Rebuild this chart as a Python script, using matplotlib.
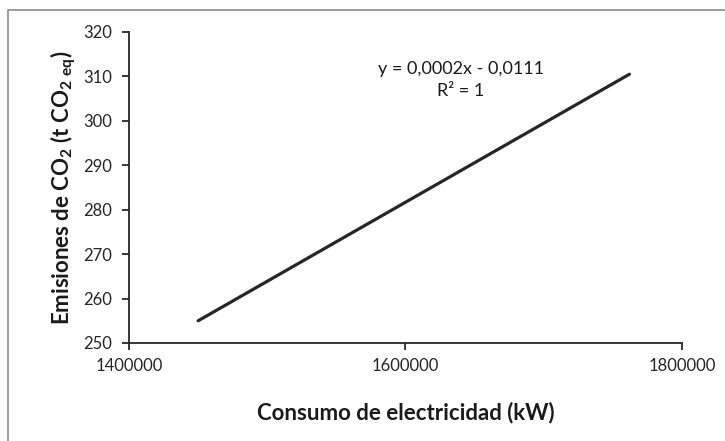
import matplotlib
matplotlib.use("Agg")
import matplotlib.pyplot as plt
from matplotlib.patches import Rectangle

# Electricity consumption (kW) vs CO2 emissions (t CO2 eq)
consumo_kw = [1450000, 1762000]
emisiones_t = [255.0, 310.5]

x_ticks = [1400000, 1600000, 1800000]
y_ticks = [250, 260, 270, 280, 290, 300, 310, 320]

ecuacion = "y = 0,0002x - 0,0111\nR² = 1"

plt.rcParams["font.family"] = ["Lato", "DejaVu Sans"]
plt.rcParams["mathtext.default"] = "regular"

fig = plt.figure(figsize=(7.25, 4.41), dpi=100)
W, H = 725, 441

# chart frame (left and top edges visible)
fig.patches.append(Rectangle((8 / W, -0.05), 1.1, 1.05 - 10 / H,
                             transform=fig.transFigure, fill=False,
                             edgecolor="#8c8c8c", linewidth=1.2))

ax = fig.add_axes([129 / W, 1 - 343 / H, (682 - 129) / W, (343 - 32) / H])
ax.plot(consumo_kw, emisiones_t, color="#262626", linewidth=2.3,
        solid_capstyle="round")

ax.set_xlim(1400000, 1800000)
ax.set_ylim(250, 320)
ax.set_xticks(x_ticks)
ax.set_yticks(y_ticks)
ax.set_xticklabels([str(v) for v in x_ticks])
ax.set_yticklabels([str(v) for v in y_ticks])

for side in ("top", "right"):
    ax.spines[side].set_visible(False)
for side in ("left", "bottom"):
    ax.spines[side].set_color("#262626")
    ax.spines[side].set_linewidth(1.3)

ax.tick_params(axis="both", direction="out", length=5, width=1.3,
               color="#262626", labelsize=12, labelcolor="#262626")
ax.tick_params(axis="y", pad=7)
ax.tick_params(axis="x", pad=6)

ax.set_xlabel("Consumo de electricidad (kW)", fontsize=16, fontweight="bold",
              color="#1a1a1a", labelpad=20)
ax.set_ylabel("Emisiones de CO$_2$ (t CO$_{2\\ eq}$)", fontsize=16,
              fontweight="bold", color="#1a1a1a", labelpad=4)

ax.text(0.600, 0.846, ecuacion, transform=ax.transAxes, ha="center",
        va="center", fontsize=13, color="#1a1a1a", linespacing=1.5)

fig.savefig("out.png", dpi=100)
